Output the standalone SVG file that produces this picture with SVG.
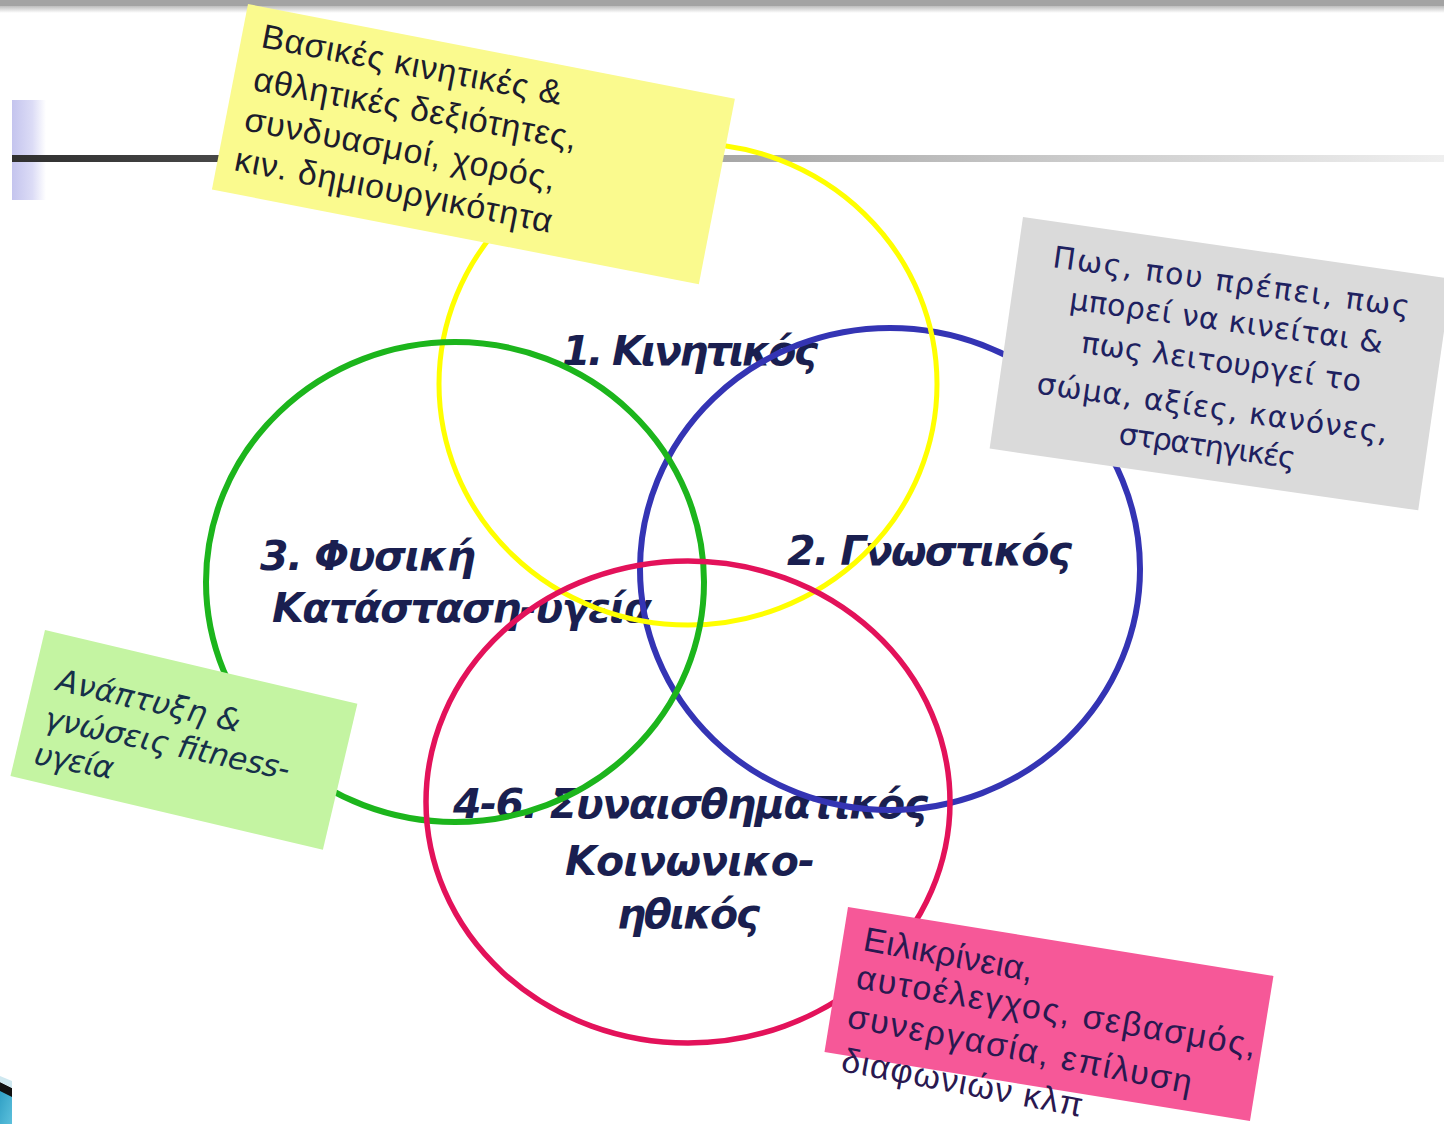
<svg xmlns="http://www.w3.org/2000/svg" width="1444" height="1124" viewBox="0 0 1444 1124">
<defs>
<linearGradient id="gLine" x1="0" y1="0" x2="1444" y2="0" gradientUnits="userSpaceOnUse">
<stop offset="0" stop-color="#2e2e2e"/>
<stop offset="0.15" stop-color="#474747"/>
<stop offset="0.5" stop-color="#a6a6a6"/>
<stop offset="0.75" stop-color="#cccccc"/>
<stop offset="1" stop-color="#efefef"/>
</linearGradient>
<linearGradient id="gLav" x1="0" y1="0" x2="1" y2="0">
<stop offset="0" stop-color="#c4c4ee"/>
<stop offset="0.6" stop-color="#dcdcf6"/>
<stop offset="1" stop-color="#ffffff"/>
</linearGradient>
<linearGradient id="gTop" x1="0" y1="0" x2="0" y2="1">
<stop offset="0" stop-color="#bdbdbd"/>
<stop offset="1" stop-color="#ffffff"/>
</linearGradient>
<linearGradient id="gTeal" x1="0" y1="0" x2="1" y2="1">
<stop offset="0" stop-color="#2f9fc4"/>
<stop offset="1" stop-color="#5cc0dc"/>
</linearGradient>
</defs>
<style>
.title{font-family:"DejaVu Sans","Verdana",sans-serif;font-style:italic;font-weight:bold;font-size:41px;fill:#1a1f50}
.ring{fill:none}
.yel{font-family:"Liberation Sans",Arial,sans-serif;font-size:34px;fill:#1c1c2c}
.gry{font-family:"DejaVu Sans",Verdana,sans-serif;font-size:30px;fill:#1e2160;text-anchor:middle}
.grn{font-family:"DejaVu Sans",Verdana,sans-serif;font-style:italic;font-size:31px;fill:#16304a}
.pnk{font-family:"Liberation Sans",Arial,sans-serif;font-size:34px;fill:#2a1850}
</style>
<rect x="0" y="0" width="1444" height="1124" fill="#ffffff"/>
<g id="background">
<rect x="0" y="0" width="1444" height="6" fill="#a3a3a3"/>
<rect x="0" y="6" width="1444" height="7" fill="url(#gTop)"/>
<rect x="12" y="100" width="34" height="100" fill="url(#gLav)"/>
<rect x="12" y="155" width="1432" height="7" fill="url(#gLine)"/>
<polygon points="0,1090 12,1096 12,1124 0,1124" fill="url(#gTeal)"/>
<polygon points="0,1082 12,1088 12,1097 0,1091" fill="#111111"/>
<polygon points="0,1076 12,1081 12,1088 0,1082" fill="#cfe8f0"/>
</g>
<g id="labels">
<text id="label-1" class="title" x="562" y="365" textLength="256">1. Κινητικός</text>
<text id="label-2" class="title" x="787" y="565" textLength="285">2. Γνωστικός</text>
<g id="label-3">
<text class="title" x="260" y="570" textLength="216">3. Φυσική</text>
<text class="title" x="272" y="622" textLength="380">Κατάσταση-υγεία</text>
</g>
<g id="label-4-6">
<text class="title" x="453" y="818" textLength="475">4-6. Συναισθηματικός</text>
<text class="title" x="565" y="875" textLength="250">Κοινωνικο-</text>
<text class="title" x="617" y="928" textLength="143">ηθικός</text>
</g>
</g>
<g id="connectors">
<ellipse id="circle-2" class="ring" cx="890" cy="569" rx="250" ry="241" stroke="#3434b4" stroke-width="6"/>
<ellipse id="circle-1" class="ring" cx="688" cy="384" rx="249" ry="241" stroke="#ffff00" stroke-width="5"/>
<ellipse id="circle-3" class="ring" cx="455" cy="582" rx="249" ry="240" stroke="#1cb51c" stroke-width="6"/>
<ellipse id="circle-4-6" class="ring" cx="688" cy="802" rx="262" ry="241" stroke="#e3125a" stroke-width="5.5"/>
</g>
<g id="box-motor">
<rect x="0" y="0" width="496" height="189" fill="#fafa8e" transform="translate(248,4) rotate(11)"/>
<text class="yel" transform="translate(260,47) rotate(10.9)" textLength="305">Βασικές κινητικές &amp;</text>
<text class="yel" transform="translate(252,90) rotate(10.5)" textLength="328">αθλητικές δεξιότητες,</text>
<text class="yel" transform="translate(243,130) rotate(11)" textLength="316">συνδυασμοί, χορός,</text>
<text class="yel" transform="translate(233,170) rotate(11.2)" textLength="323">κιν. δημιουργικότητα</text>
</g>
<g id="box-cognitive">
<rect x="0" y="0" width="433" height="234" fill="#dadada" transform="translate(1023,217) rotate(8.2)"/>
<text class="gry" transform="translate(1230,292) rotate(8)" textLength="360">Πως, που πρέπει, πως</text>
<text class="gry" transform="translate(1225,331) rotate(8)" textLength="316">μπορεί να κινείται &amp;</text>
<text class="gry" transform="translate(1220,372) rotate(8)" textLength="282">πως λειτουργεί το</text>
<text class="gry" transform="translate(1211,418) rotate(8)" textLength="354">σώμα, αξίες, κανόνες,</text>
<text class="gry" transform="translate(1206,456) rotate(8)" textLength="178">στρατηγικές</text>
</g>
<g id="box-physical">
<rect x="0" y="0" width="321" height="150" fill="#c4f4a2" transform="translate(45,630) rotate(13.3)"/>
<text class="grn" transform="translate(55,690) rotate(13)" textLength="188">Ανάπτυξη &amp;</text>
<text class="grn" transform="translate(43,728) rotate(12)" textLength="250">γνώσεις fitness-</text>
<text class="grn" transform="translate(33,764) rotate(11)" textLength="80">υγεία</text>
</g>
<g id="box-social">
<rect x="0" y="0" width="431" height="147" fill="#f65898" transform="translate(848,907) rotate(9.2)"/>
<text class="pnk" transform="translate(862,950) rotate(10.6)" textLength="172">Ειλικρίνεια,</text>
<text class="pnk" transform="translate(855,988) rotate(9.8)" textLength="405">αυτοέλεγχος, σεβασμός,</text>
<text class="pnk" transform="translate(846,1027) rotate(11)" textLength="350">συνεργασία, επίλυση</text>
<text class="pnk" transform="translate(840,1071) rotate(10.8)" textLength="245">διαφωνιών κλπ</text>
</g>
</svg>
